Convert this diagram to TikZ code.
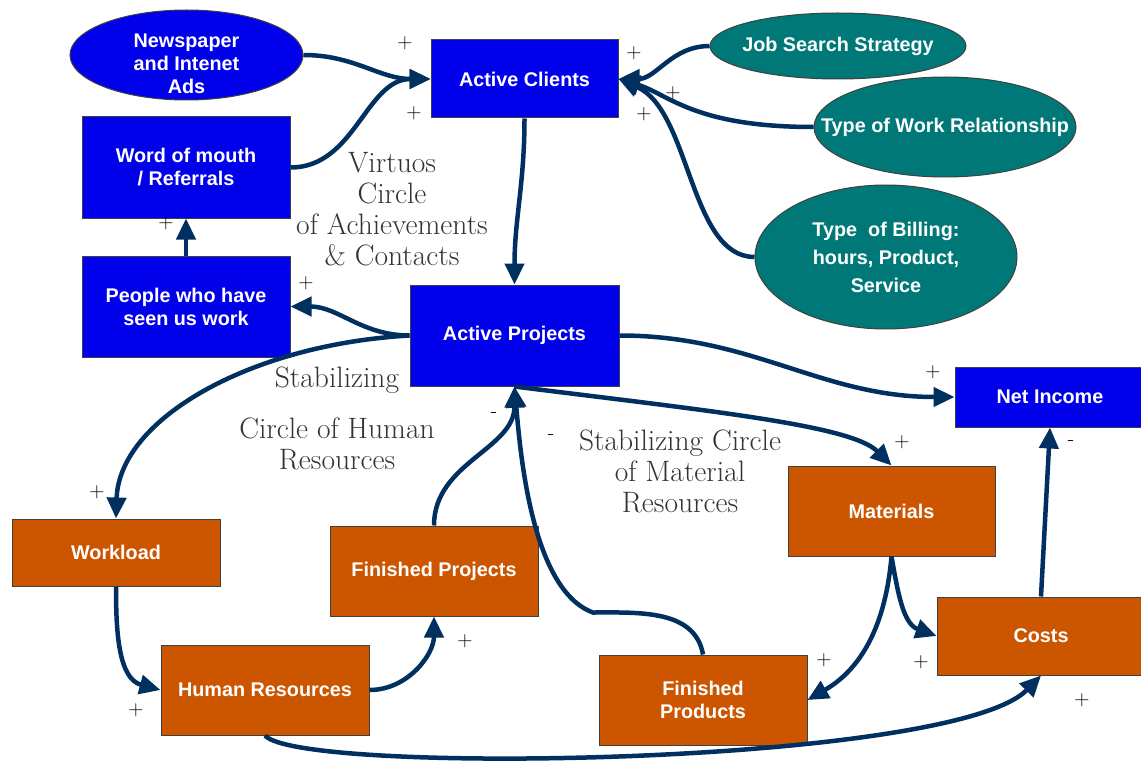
\documentclass[tikz,border=0pt]{standalone}
\usepackage{fontspec}
\newfontfamily\boxfont{Liberation Sans}
\usetikzlibrary{shapes.geometric,arrows.meta}
\definecolor{stockblue}{RGB}{0,0,235}
\definecolor{factorteal}{RGB}{0,120,120}
\definecolor{flowbrown}{RGB}{204,85,0}
\definecolor{linknavy}{RGB}{0,48,96}
\tikzset{every picture/.style={>={Triangle[length=21pt,width=19pt]}},
  sign/.style={font=\fontsize{21}{21}\selectfont},
  note/.style={align=center,text=black!80,font=\fontsize{29.5}{31}\selectfont},
  link/.style={->,draw=linknavy,line width=4.5pt},
  box/.style={draw=black!75,line width=1pt,text=white,align=center,inner sep=0pt,
    font=\boxfont\bfseries\fontsize{19.8}{23}\selectfont},
  stock/.style={box,fill=stockblue},
  resource/.style={box,fill=flowbrown},
  factor/.style={box,ellipse,fill=factorteal,inner xsep=-32pt}}

\begin{document}
\begin{tikzpicture}[x=1pt,y=-1pt]
  \path [use as bounding box,fill=white] (0,0) rectangle (1141,765);
  % clients and projects
  \node (ac) [stock,minimum width=187pt,minimum height=78pt] at (524.5,79) {Active Clients};
  \node (ap) [stock,minimum width=209pt,minimum height=101pt] at (514.5,335.5) {Active Projects};
  \node (wom) [stock,minimum width=208pt,minimum height=101pt] at (186,167.5) {Word of mouth\\ / Referrals};
  \node (seen) [stock,minimum width=208pt,minimum height=101pt] at (186,306.5) {People who have\\seen us work};
  \node (net) [stock,minimum width=190pt,minimum height=60pt] at (1050,397) {Net Income};
  \node (news) [stock,ellipse,inner xsep=-32pt,minimum width=233pt,minimum height=90pt,
    label={[box,draw=none,yshift=-9pt]center:{Newspaper\\and Intenet\\Ads}}] at (186.5,55) {};
  % outside factors
  \node (jss) [factor,minimum width=256pt,minimum height=66pt] at (838,46) {Job Search Strategy};
  \node (twr) [factor,minimum width=262pt,minimum height=100pt] at (945,127) {Type of Work Relationship};
  \node (bill) [factor,minimum width=262pt,minimum height=144pt] at (886,257) {Type~ of Billing:\\[5pt]hours, Product,\\[5pt]Service};
  % resources
  \node (wl) [resource,minimum width=208pt,minimum height=67pt] at (116,552.5) {Workload};
  \node (fp) [resource,minimum width=208pt,minimum height=90pt] at (434,571) {Finished Projects};
  \node (hr) [resource,minimum width=208pt,minimum height=90pt] at (265,690) {Human Resources};
  \node (mat) [resource,minimum width=207pt,minimum height=90pt] at (891.5,511) {Materials};
  \node (cost) [resource,minimum width=208pt,minimum height=78pt] at (1041,636) {Costs};
  \node (fprod) [resource,minimum width=208pt,minimum height=90pt] at (703,700) {Finished\\Products};
  % loop names
  \node (virtuous) [note] at (392,209) {Virtuos\\Circle\\of Achievements\\\& Contacts};
  \node (hstab) [note] at (337,380) {Stabilizing};
  \node (hcircle) [note] at (337,444) {Circle of Human\\Resources};
  \node (mcircle) [note] at (680,471) {Stabilizing Circle\\of Material\\Resources};
  % links
  \draw [link] (news.east) to[out=0,in=180] (ac.west);
  \draw [link] (wom.east) to[out=0,in=180] (ac.west);
  \draw [link] (jss.west) to[out=180,in=0] (ac.east);
  \draw [link] (twr.west) .. controls +(-120,0) and +(50,15) .. (ac.east);
  \draw [link] (bill.west) .. controls +(-65,0) and +(72,31) .. (ac.east);
  \draw [link] (ac.south) to[out=-90,in=90] (ap.north);
  \draw [link] (ap.west) to[out=180,in=0] (seen.east);
  \draw [link] (seen.north) -- (wom.south);
  \draw [link] (ap.west) .. controls +(-160,9) and +(3,-99) .. (wl.north);
  \draw [link] (wl.south) to[out=-90,in=165] (hr.west);
  \draw [link] (hr.east) to[out=0,in=-90] (fp.south);
  \draw [link] (fp.north) to[out=90,in=-90] (ap.south);
  \draw [link] (fprod.north) to[out=100,in=0] ++(-110,-42) to[out=160,in=-85,looseness=0.7] (ap.south);
  \draw [link] (ap.east) to[out=0,in=180] (net.west);
  \draw [link] (ap.south) .. controls +(200,25) and +(-40,-40) .. (mat.north);
  \draw [link] (mat.south) to[out=-95,in=30] (fprod.east);
  \draw [link] (mat.south) to[out=-80,in=160] (cost.west);
  \draw [link] (cost.north) -- (net.south);
  \draw [link] (hr.south) .. controls +(35,40) and +(-88,90) .. (cost.south);
  % polarity signs
  \foreach \x/\y [count=\i] in {405/43,414/113,634/53,673/93,644/114,166/223,306/283,
      97/492,136/710,465/641,933/372,902/442,824/660,921/662,1082/700}
    \node (plus\i) [sign] at (\x,\y) {+};
  \foreach \x/\y [count=\i] in {494/415,551/437,1071/443}
    \node (minus\i) [sign] at (\x,\y) {-};
\end{tikzpicture}
\end{document}
